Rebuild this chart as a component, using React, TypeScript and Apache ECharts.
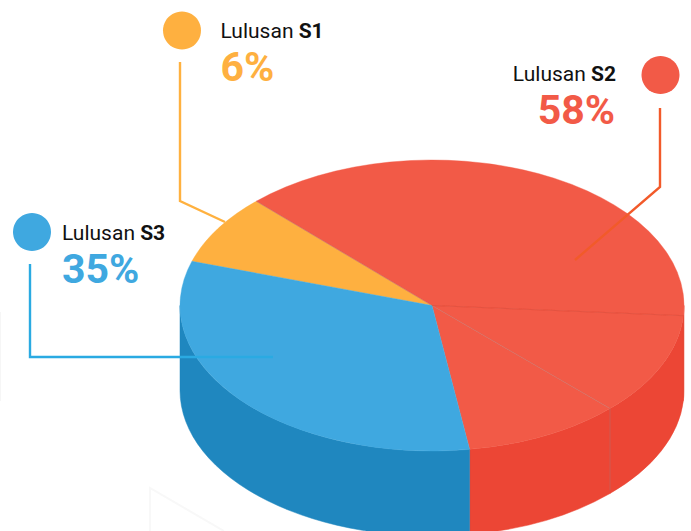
import React, { useEffect, useRef } from "react";
import * as echarts from "echarts";

// Callout texts
const calloutPrefix = ["Lulusan ", "Lulusan ", "Lulusan "];
const calloutCodes = ["S1", "S2", "S3"];
const calloutPercents = [6, 58, 35];

// Slices as drawn, in clockwise order from the blue/orange boundary (share of the full turn, %)
const sliceNames = ["S1", "S2 a", "S2 b", "S2 c", "S3"];
const sliceShares = [7.8, 38.4, 11.4, 10.1, 32.3];

const START_DEG = -162.3;
const CX = 432, CY = 305.5, RX = 252, RY = 145.5, DEPTH = 85;

const topColors = ["#FEB040", "#F25A47", "#F25A47", "#F25A47", "#3FA8E0"];
const wallColors = ["#E89A30", "#EC4635", "#EC4635", "#EC4635", "#1F87BF"];
const seamColors = [null, "#8f8a90", "#DE4A38", "#8f8a90", null];
const wallSeamColors = [null, null, "#D8432F", "#9a8a90", null];

const ORANGE = "#FEB040", RED = "#F25A47", BLUE = "#3FA8E0";

const px = (deg: number, r = RX) => CX + r * Math.cos((deg * Math.PI) / 180);
const py = (deg: number, r = RY) => CY + r * Math.sin((deg * Math.PI) / 180);

function sliceStart(index: number) {
  let sum = 0;
  for (let i = 0; i < index; i++) sum += sliceShares[i];
  return START_DEG + (sum / 100) * 360;
}

function renderSlice(params: any, api: any) {
  const i = params.dataIndex;
  const t0 = sliceStart(i);
  const t1 = t0 + (api.value(0) / 100) * 360;
  const children: any[] = [];

  // visible wall: the part of the slice on the front half of the ellipse
  const ranges = [[0, 180], [360, 540]];
  for (const [a, b] of ranges) {
    const w0 = Math.max(t0, a), w1 = Math.min(t1, b);
    if (w1 > w0) {
      const d =
        `M${px(w0)} ${py(w0)} A${RX} ${RY} 0 0 1 ${px(w1)} ${py(w1)} ` +
        `L${px(w1)} ${py(w1) + DEPTH} A${RX} ${RY} 0 0 0 ${px(w0)} ${py(w0) + DEPTH} Z`;
      children.push({
        type: "path",
        shape: { pathData: d },
        style: { fill: wallColors[i], stroke: wallColors[i], lineWidth: 0.5 },
      });
      if (wallSeamColors[i] && w0 === t0) {
        children.push({
          type: "line",
          shape: { x1: px(t0), y1: py(t0), x2: px(t0), y2: py(t0) + DEPTH - 3 },
          style: { stroke: wallSeamColors[i], lineWidth: 0.6, opacity: 0.6 },
        });
      }
    }
  }

  const large = t1 - t0 > 180 ? 1 : 0;
  const top = `M${CX} ${CY} L${px(t0)} ${py(t0)} A${RX} ${RY} 0 ${large} 1 ${px(t1)} ${py(t1)} Z`;
  children.push({
    type: "path",
    shape: { pathData: top },
    style: { fill: topColors[i], stroke: topColors[i], lineWidth: 0.4 },
  });
  return { type: "group", children };
}

function renderSeam(params: any) {
  const i = params.dataIndex;
  if (!seamColors[i]) return null;
  const t0 = sliceStart(i);
  return {
    type: "line",
    shape: { x1: CX, y1: CY, x2: px(t0), y2: py(t0) },
    style: { stroke: seamColors[i], lineWidth: i === 2 ? 0.9 : 0.5, opacity: i === 2 ? 0.8 : 0.55 },
  };
}

const leader = (points: number[][], color: string, opacity = 1) => ({
  type: "polyline",
  z: 20,
  shape: { points },
  style: { fill: "none", stroke: color, lineWidth: 2.4, opacity },
});

const callout = (
  i: number, x: number, y: number, color: string, align: "left" | "right",
) => [
  {
    type: "text", z: 21, x, y,
    style: {
      text: `{a|${calloutPrefix[i]}}{b|${calloutCodes[i]}}`,
      align, verticalAlign: "middle",
      rich: {
        a: { fontFamily: "Roboto", fontSize: 21, fill: "#111", color: "#111" },
        b: { fontFamily: "Roboto", fontSize: 21, fontWeight: 700, fill: "#111", color: "#111" },
      },
    },
  },
  {
    type: "text", z: 21, x: align === "left" ? x : x - 1, y: y + 36,
    style: {
      text: `${calloutPercents[i]}%`,
      align, verticalAlign: "middle",
      fontFamily: "Roboto", fontSize: 41, fontWeight: 700, fill: color,
    },
  },
];

export default function App() {
  const ref = useRef<HTMLDivElement>(null);
  useEffect(() => {
    const chart = echarts.init(ref.current!, undefined, { renderer: "svg" });
    chart.setOption({
      animation: false,
      backgroundColor: "#fff",
      series: [
        {
          type: "custom",
          coordinateSystem: "none",
          silent: true,
          z: 2,
          data: sliceShares.map((v, i) => ({ name: sliceNames[i], value: [v] })),
          renderItem: renderSlice,
        },
        {
          type: "custom",
          coordinateSystem: "none",
          silent: true,
          z: 3,
          data: sliceShares.map((v, i) => ({ name: sliceNames[i], value: [v] })),
          renderItem: renderSeam,
        },
      ],
      graphic: {
        elements: [
          { type: "polyline", z: 0, shape: { points: [[150, 531], [150, 488], [224, 531]] }, style: { fill: "none", stroke: "#F8F8F8", lineWidth: 2 } },
          { type: "line", z: 0, shape: { x1: 0, y1: 312, x2: 0, y2: 401 }, style: { stroke: "#F6F6F6", lineWidth: 2 } },
          leader([[180, 62], [180, 201], [225, 222]], "#FFB13F"),
          leader([[660, 108], [660, 187], [575, 260]], "#F25A2A"),
          leader([[30, 264], [30, 357], [273, 357]], "#2AAAE2"),
          { type: "circle", z: 21, shape: { cx: 182, cy: 30.5, r: 19 }, style: { fill: ORANGE } },
          { type: "circle", z: 21, shape: { cx: 660.5, cy: 75, r: 19 }, style: { fill: RED } },
          { type: "circle", z: 21, shape: { cx: 32, cy: 232, r: 19 }, style: { fill: BLUE } },
          ...callout(0, 220.5, 31, ORANGE, "left"),
          ...callout(1, 616, 74, RED, "right"),
          ...callout(2, 62, 233, BLUE, "left"),
        ],
      },
    });
    return () => chart.dispose();
  }, []);
  return <div ref={ref} style={{ position: "fixed", left: 0, top: 0, width: 691, height: 531 }} />;
}
